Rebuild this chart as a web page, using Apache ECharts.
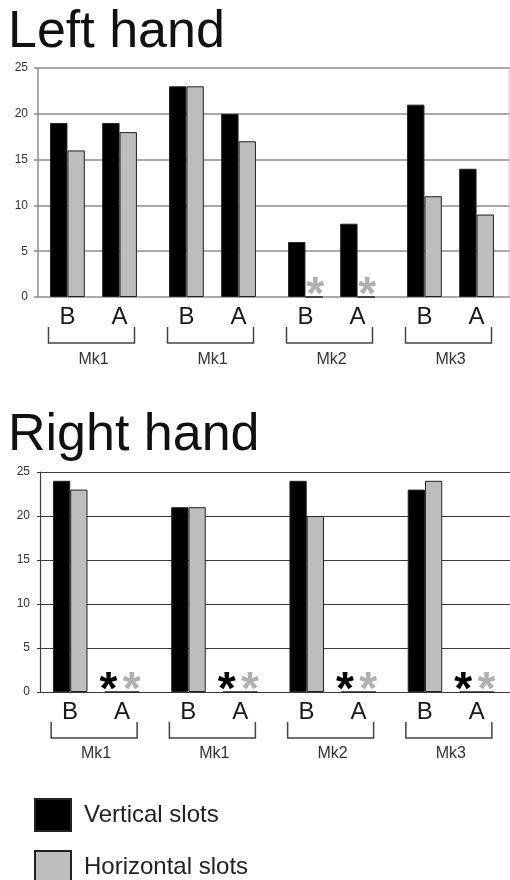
<!DOCTYPE html>
<html>
<head>
<meta charset="utf-8">
<script src="https://cdn.jsdelivr.net/npm/echarts@6/dist/echarts.min.js"></script>
<style>
html,body{margin:0;padding:0;background:#fff;}
#main{width:510px;height:880px;}
</style>
</head>
<body>
<div id="main"></div>
<script>
// ---- data ----
const groups = ['Mk1', 'Mk1', 'Mk2', 'Mk3'];
const conditions = ['B', 'A'];
const seriesNames = ['Vertical slots', 'Horizontal slots'];
const chartTitles = ['Left hand', 'Right hand'];
const yTicks = [0, 5, 10, 15, 20, 25];

const leftVerticalB   = [19, 23, 6, 21];
const leftHorizontalB = [16, 23, 0, 11];
const leftVerticalA   = [19, 20, 8, 14];
const leftHorizontalA = [18, 17, 0, 9];

const rightVerticalB   = [24, 21, 24, 23];
const rightHorizontalB = [23, 21, 20, 24];
const rightVerticalA   = [0, 0, 0, 0];
const rightHorizontalA = [0, 0, 0, 0];

// ---- style ----
const FONT = '"Liberation Sans", Arial, Helvetica, sans-serif';
const BLACK = '#000000';
const GRAY = '#bdbdbd';
const grids = [
  { left: 34, top: 68, width: 481, height: 229, axisOffset: -4, line: '#8c8c8c', lw: 1.5, mk: 55 },
  { left: 37, top: 472, width: 481, height: 220, axisOffset: -3, line: '#3a3a3a', lw: 1.2, mk: 54 }
];

function starLabel(color, dx) {
  return {
    show: true,
    position: 'inside',
    formatter: p => (p.value === 0 ? '*' : ''),
    fontSize: 46,
    fontWeight: 'bold',
    fontFamily: FONT,
    color: color,
    offset: [dx, -1]
  };
}

function barSeries(gi, name, data, color, dx) {
  return {
    type: 'bar',
    name: name,
    xAxisIndex: gi * 2,
    yAxisIndex: gi,
    data: data,
    barGap: '0%',
    barCategoryGap: '27%',
    itemStyle: { color: color, borderColor: '#222', borderWidth: 1 },
    label: starLabel(color === BLACK ? '#000' : '#b0b0b0', dx),
    silent: true
  };
}
function spacer(gi) {
  return { type: 'bar', name: 'spacer', xAxisIndex: gi * 2, yAxisIndex: gi, data: [], barGap: '0%', barCategoryGap: '27%' };
}

const seriesSets = [
  [leftVerticalB, leftHorizontalB, leftVerticalA, leftHorizontalA],
  [rightVerticalB, rightHorizontalB, rightVerticalA, rightHorizontalA]
];

const series = [];
seriesSets.forEach((s, gi) => {
  series.push(barSeries(gi, seriesNames[0], s[0], BLACK, -5));
  series.push(barSeries(gi, seriesNames[1], s[1], GRAY, 1));
  series.push(spacer(gi));
  series.push(barSeries(gi, seriesNames[0], s[2], BLACK, -5));
  series.push(barSeries(gi, seriesNames[1], s[3], GRAY, 1));
});

const xAxis = [];
const yAxis = [];
grids.forEach((g, gi) => {
  xAxis.push({
    type: 'category', gridIndex: gi, data: groups, position: 'bottom',
    axisLine: { show: false }, axisTick: { show: false },
    axisLabel: {
      margin: 7,
      formatter: () => '{b|' + conditions[0] + '}{a|' + conditions[1] + '}',
      rich: {
        b: { width: 52, align: 'center', fontSize: 24, lineHeight: 26, fontFamily: FONT, color: '#1a1a1a' },
        a: { width: 52, align: 'center', fontSize: 24, lineHeight: 26, fontFamily: FONT, color: '#1a1a1a' }
      }
    }
  });
  xAxis.push({
    type: 'category', gridIndex: gi, data: groups, position: 'bottom',
    axisLine: { show: false }, axisTick: { show: false },
    axisLabel: { margin: g.mk, fontSize: 16, fontFamily: FONT, color: '#333' }
  });
  yAxis.push({
    type: 'value', gridIndex: gi, min: yTicks[0], max: yTicks[yTicks.length - 1], interval: 5,
    offset: g.axisOffset,
    axisLine: { show: true, lineStyle: { color: g.line, width: g.lw } },
    axisTick: { show: false },
    axisLabel: { margin: 10, fontSize: 12, fontFamily: FONT, color: '#333' },
    splitLine: { show: true, lineStyle: { color: g.line, width: g.lw } }
  });
});

const chart = echarts.init(document.getElementById('main'), null, { renderer: 'canvas' });
chart.setOption({
  animation: false,
  backgroundColor: '#ffffff',
  title: [
    { text: chartTitles[0], left: 8, top: 7, padding: 0, textStyle: { fontSize: 52, fontWeight: 'normal', color: '#111', fontFamily: FONT } },
    { text: chartTitles[1], left: 8, top: 410, padding: 0, textStyle: { fontSize: 52, fontWeight: 'normal', color: '#111', fontFamily: FONT } }
  ],
  legend: {
    data: seriesNames,
    orient: 'vertical',
    left: 34, top: 798, height: 120, width: 400,
    padding: 0,
    itemWidth: 36, itemHeight: 32, itemGap: 18,
    icon: 'rect',
    selectedMode: false,
    textStyle: { fontSize: 24, fontFamily: FONT, color: '#222', padding: [0, 0, 0, 8] }
  },
  grid: grids.map(g => ({ left: g.left, top: g.top, width: g.width, height: g.height })),
  xAxis: xAxis,
  yAxis: yAxis,
  series: series
});

// brackets under each group, placed through the axes
const graphics = [];
grids.forEach((g, gi) => {
  const y0 = chart.convertToPixel({ yAxisIndex: gi }, 0);
  groups.forEach((_, i) => {
    const cx = chart.convertToPixel({ xAxisIndex: gi * 2 }, i);
    const x1 = cx - 45, x2 = cx + 41;
    graphics.push({
      type: 'polyline', silent: true,
      shape: { points: [[x1, y0 + 30], [x1, y0 + 46], [x2, y0 + 46], [x2, y0 + 30]] },
      style: { stroke: '#444', lineWidth: 1.5, fill: null }
    });
  });
});
// right border of the upper plot
(function () {
  const yTop = chart.convertToPixel({ yAxisIndex: 0 }, 25);
  const yBot = chart.convertToPixel({ yAxisIndex: 0 }, 0);
  graphics.push({ type: 'line', silent: true, shape: { x1: 509, y1: yTop, x2: 509, y2: yBot }, style: { stroke: '#c4c4c4', lineWidth: 1 } });
})();
chart.setOption({ graphic: graphics });
</script>
</body>
</html>
